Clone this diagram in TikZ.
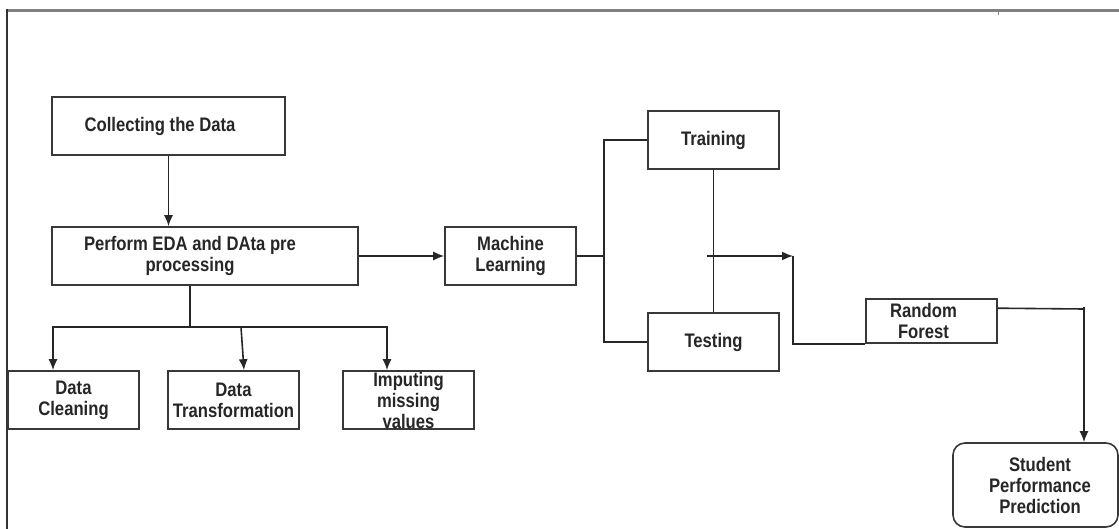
\documentclass[tikz,border=0pt]{standalone}
\usepackage{fontspec}
\newfontfamily\labfont[FakeStretch=0.85]{Liberation Sans}
\usetikzlibrary{arrows.meta,calc}
\definecolor{boxcol}{gray}{0.22}
\definecolor{framegray}{gray}{0.5}
\begin{document}
\begin{tikzpicture}[x=1pt,y=-1pt,
  box/.style={draw=boxcol,line width=1.6pt,inner sep=0pt,minimum width=131pt,minimum height=58pt,
    font=\labfont\bfseries\fontsize{19.6}{21}\selectfont,align=center,text=black!85},
  conn/.style={draw=black!85,line width=1.6pt},
  arr/.style={conn,-{Latex[length=11pt,width=9pt]}}]
\useasboundingbox (0,0) rectangle (1119,529);
\clip (0,0) rectangle (1119,529);
% frame
\draw[framegray,line width=3pt] (6,10.5) -- (1119,10.5);
\draw[black!80,line width=1.6pt] (7,9) -- (7,529);
\draw[gray,line width=1pt] (998,10) -- (998,15);
% nodes
\node[box,minimum width=233pt] (collect) at (168.5,126) {Collecting the Data\hspace*{17pt}};
\node[box,minimum width=306pt] (eda) at (205,256) {Perform EDA and DAta pre\hspace*{30pt}\\processing\hspace*{30pt}};
\node[box] (clean) at (73.5,400) {Data\\Cleaning};
\node[box] (trans) at (233.5,400) {Data\\Transformation};
\node[box] (imp) at (408.5,400) {Imputing\\missing\\values};
\node[box] (ml) at (510.5,256) {Machine\\Learning};
\node[box] (train) at (713.5,140) {Training};
\node[box] (test) at (713.5,342) {Testing};
\node[box,minimum height=44pt] (rf) at (931.5,321) {Random\hspace*{16pt}\\Forest\hspace*{16pt}};
\node[box,rounded corners=12pt,minimum width=165pt,minimum height=84pt] (stu) at (1035.5,485) {\hspace*{9pt}Student\\\hspace*{9pt}Performance\\\hspace*{9pt}Prediction};
% connectors
\draw[arr] (collect.south) -- (collect.south |- eda.north);
\coordinate (j1) at (190,327);
\coordinate (bL) at (53,327);
\coordinate (bM) at (241,327);
\coordinate (bR) at (387,327);
\draw[conn] (eda.south -| j1) -- (j1);
\draw[arr] (j1) -| (clean.north -| bL);
\draw[arr] (j1) -| (imp.north -| bR);
\draw[arr] (bM) -- ($(trans.north)+(10.5,0)$);
\draw[arr] (eda.east) -- (ml.west);
\coordinate (mj) at (604,256);
\draw[conn] (ml.east) -- (mj);
\draw[conn] (train.west) -| (mj) |- (test.west);
\draw[conn] (train.south) -- (test.north);
\coordinate (a1) at (707,256);
\coordinate (a2) at (793,256);
\draw[arr] (a1) -- (a2);
\draw[conn] (a2) |- (rf.south west);
\coordinate (r1) at (1084,307);
\coordinate (r2) at (1084,309);
\draw[conn] ($(rf.north east)+(0,10)$) -- (r2);
\draw[arr] (r1) -- (r1 |- stu.north);
\end{tikzpicture}
\end{document}
